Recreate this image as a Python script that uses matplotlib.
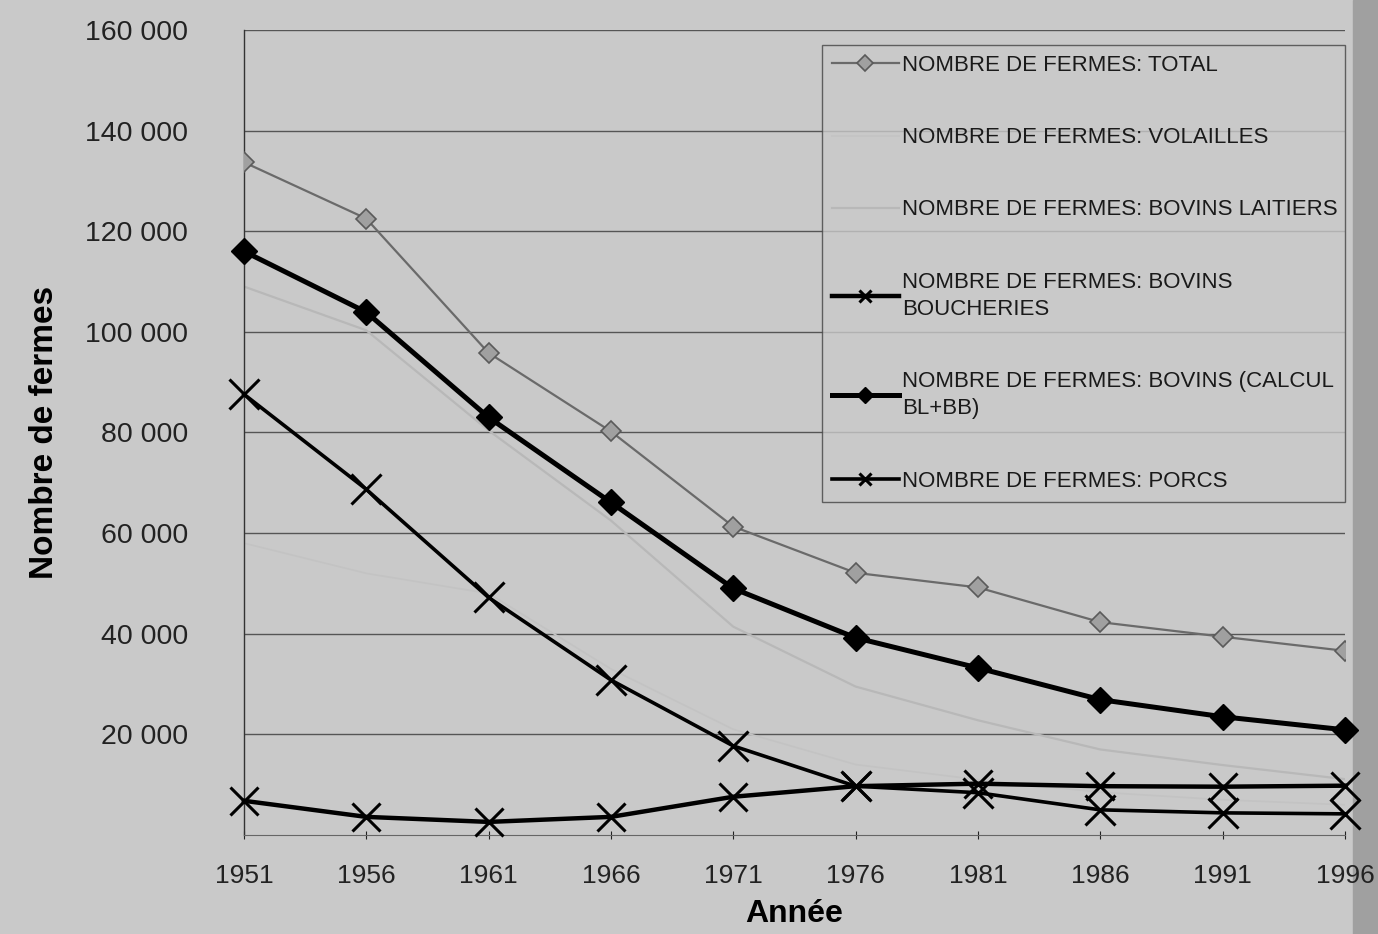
import matplotlib.pyplot as plt
from matplotlib.ticker import FuncFormatter
from matplotlib.patches import Rectangle

years = [1951, 1956, 1961, 1966, 1971, 1976, 1981, 1986, 1991, 1996]
total = [133700, 122500, 95800, 80200, 61300, 52100, 49200, 42300, 39400, 36600]
volailles = [58000, 52000, 48000, 33000, 21000, 14000, 11000, 8500, 7000, 6000]
laitiers = [109000, 100300, 80400, 62500, 41400, 29500, 22800, 17000, 13900, 11100]
boucheries = [6800, 3600, 2600, 3600, 7600, 9700, 10200, 9700, 9600, 9800]
bovins = [116000, 103900, 83000, 66100, 49000, 39200, 33200, 26900, 23500, 20900]
porcs = [87600, 68700, 47200, 30800, 17700, 9700, 8400, 5000, 4400, 4200]

labels = [
    'NOMBRE DE FERMES: TOTAL',
    'NOMBRE DE FERMES: VOLAILLES',
    'NOMBRE DE FERMES: BOVINS LAITIERS',
    'NOMBRE DE FERMES: BOVINS\nBOUCHERIES',
    'NOMBRE DE FERMES: BOVINS (CALCUL\nBL+BB)',
    'NOMBRE DE FERMES: PORCS',
]

FONT = ['Liberation Sans', 'DejaVu Sans']
BG = '#c9c9c9'
fig = plt.figure(figsize=(13.78, 9.34), dpi=100, facecolor=BG)
ax = fig.add_axes([0.177, 0.106, 0.799, 0.862], facecolor=BG)

# darker scan edge on the right
fig.patches.append(Rectangle((0.982, 0), 0.018, 1, transform=fig.transFigure,
                             color='#a0a0a0', zorder=-1))

ax.plot(years, total, color='#6a6a6a', lw=1.6, marker='D', ms=10,
        mfc='#a0a0a0', mec='#5a5a5a', mew=1.2, label=labels[0], zorder=4)
ax.plot(years, volailles, color='#c3c3c3', lw=1.2, label=labels[1], zorder=2)
ax.plot(years, laitiers, color='#b8b8b8', lw=1.6, label=labels[2], zorder=2)
ax.plot(years, boucheries, color='black', lw=3.2, marker='x', ms=20, mew=2.2,
        label=labels[3], zorder=5, clip_on=False)
ax.plot(years, bovins, color='black', lw=3.6, marker='D', ms=13,
        mfc='black', mec='black', label=labels[4], zorder=5, clip_on=False)
ax.plot(years, porcs, color='black', lw=2.6, marker='x', ms=22, mew=2.2,
        label=labels[5], zorder=5, clip_on=False)

ax.set_xlim(1951, 1996)
ax.set_ylim(0, 160000)
ax.set_xticks(years)
ax.set_yticks(range(20000, 160001, 20000))
ax.yaxis.set_major_formatter(FuncFormatter(lambda v, p: '{:,.0f}'.format(v).replace(',', ' ')))
ax.grid(axis='y', color='#555555', lw=1.0)
ax.set_axisbelow(True)

for s in ['top', 'right']:
    ax.spines[s].set_visible(False)
ax.spines['left'].set_color('#333333')
ax.spines['bottom'].set_color('#666666')
ax.spines['left'].set_linewidth(1.0)
ax.spines['bottom'].set_linewidth(0.8)

ax.tick_params(axis='y', length=0, pad=40, labelsize=20.5, colors='#222222')
ax.tick_params(axis='x', length=6, pad=18, labelsize=19, colors='#222222',
               direction='inout')
for t in ax.get_xticklabels() + ax.get_yticklabels():
    t.set_family(FONT)

ax.set_xlabel('Année', fontsize=23, fontweight='bold', family=FONT, labelpad=8)
ax.set_ylabel('Nombre de fermes', fontsize=24, fontweight='bold', family=FONT,
              labelpad=18)

leg = ax.legend(loc='upper left', bbox_to_anchor=(0.525, 0.981, 0.475, 0),
                mode='expand', borderaxespad=0, frameon=True, fancybox=False,
                handlelength=3.0, handletextpad=0.15, labelspacing=2.3,
                borderpad=0.45, prop={'family': FONT, 'size': 16})
leg.get_frame().set_facecolor(BG)
leg.get_frame().set_edgecolor('#444444')
leg.get_frame().set_linewidth(1.0)
for h in leg.legend_handles:
    h.set_markersize(8)
for t in leg.get_texts():
    t.set_color('#1a1a1a')
    t.set_linespacing(1.4)

fig.savefig('out.png', dpi=100, facecolor=BG)
